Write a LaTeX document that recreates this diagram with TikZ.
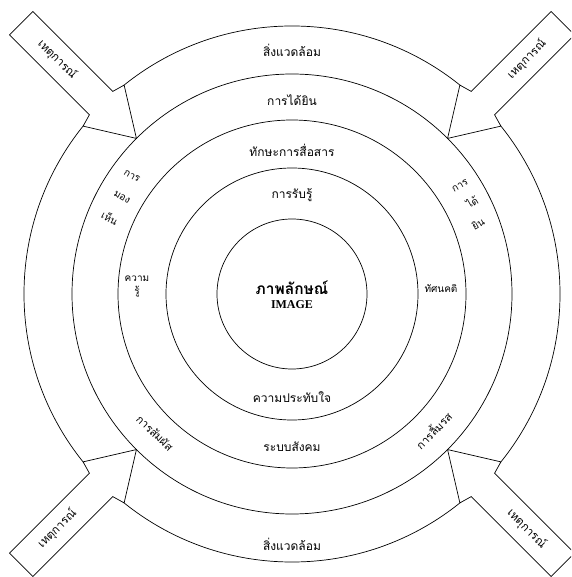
\documentclass[tikz,border=0pt]{standalone}
\usepackage{fontspec}
\setmainfont{Liberation Serif}
\newfontfamily\thaifont[Script=Thai]{Loma}
\usepackage{tikz}
\usetikzlibrary{positioning}

\begin{document}
\begin{tikzpicture}[x=1pt, y=1pt,
                ring/.style={draw=black, line width=0.7pt},
                lbl/.style={font=\thaifont\fontsize{12}{13}\selectfont, inner sep=0pt},
                wordlbl/.style={font=\thaifont\fontsize{10}{11}\selectfont, inner sep=0pt},
                event/.style={draw=black, fill=white, line width=0.7pt, line join=miter}]
                \useasboundingbox (-292,-283) rectangle (279,294);
                \clip (-292,-283) rectangle (279,294);
                \coordinate (c) at (0,0);
                \foreach \r in {268,220,174,126,75}
                    \draw[ring] (c) circle[radius=\r];
                % event arrows coming in from the corners
                \foreach \a/\t [count=\i] in {135/-45, 45/45, 225/45, 315/-45} {
                    \begin{scope}[rotate=\a]
                        \draw[event] (220,0) -- (266.4,29) -- (270,16.5) -- (383,16.5) -- (383,-16.5) -- (270,-16.5) -- (266.4,-29) -- cycle;
                    \end{scope}
                    \node[lbl, font=\thaifont\fontsize{11.5}{12}\selectfont, rotate=\t] (event\i) at (\a:332) {เหตุการณ์};
                }
                \node[lbl] (env-top) at (0,244) {สิ่งแวดล้อม};
                \node[lbl] (hearing) at (0,194) {การได้ยิน};
                \node[lbl] (skill) at (0,144) {ทักษะการสื่อสาร};
                \node[lbl] (perceive) at (0,99) {การรับรู้};
                \node[font=\thaifont\bfseries\fontsize{15.5}{16}\selectfont, inner sep=0pt] (image-th) at (0,6) {ภาพลักษณ์};
                \node[font=\bfseries\fontsize{12}{13}\selectfont, inner sep=0pt, below=5pt of image-th] (image-en) {IMAGE};
                \node[lbl] (impress) at (0,-103) {ความประทับใจ};
                \node[lbl] (social) at (0,-153) {ระบบสังคม};
                \node[lbl] (env-bottom) at (0,-250) {สิ่งแวดล้อม};
                % the senses on the sides
                \node[wordlbl, rotate=-30] (see-1) at (-160,118) {การ};
                \node[wordlbl, rotate=-30] (see-2) at (-170,97) {มอง};
                \node[wordlbl, rotate=-30] (see-3) at (-182,76) {เห็น};
                \node[wordlbl, rotate=30] (hear-1) at (168,108) {การ};
                \node[wordlbl, rotate=30] (hear-2) at (180,92) {ได้};
                \node[wordlbl, rotate=30] (hear-3) at (186,70) {ยิน};
                \node[lbl, font=\thaifont\fontsize{11}{12}\selectfont, rotate=-44] (touch) at (-137,-139) {การสัมผัส};
                \node[lbl, font=\thaifont\fontsize{11}{12}\selectfont, rotate=45] (taste) at (141,-136) {การลิ้มรส};
                \node[wordlbl] (know-1) at (-155,15) {ความ};
                \node[wordlbl, below=4pt of know-1] (know-2) {รู้};
                \node[wordlbl] (attitude) at (149,5) {ทัศนคติ};
\end{tikzpicture}
\end{document}
